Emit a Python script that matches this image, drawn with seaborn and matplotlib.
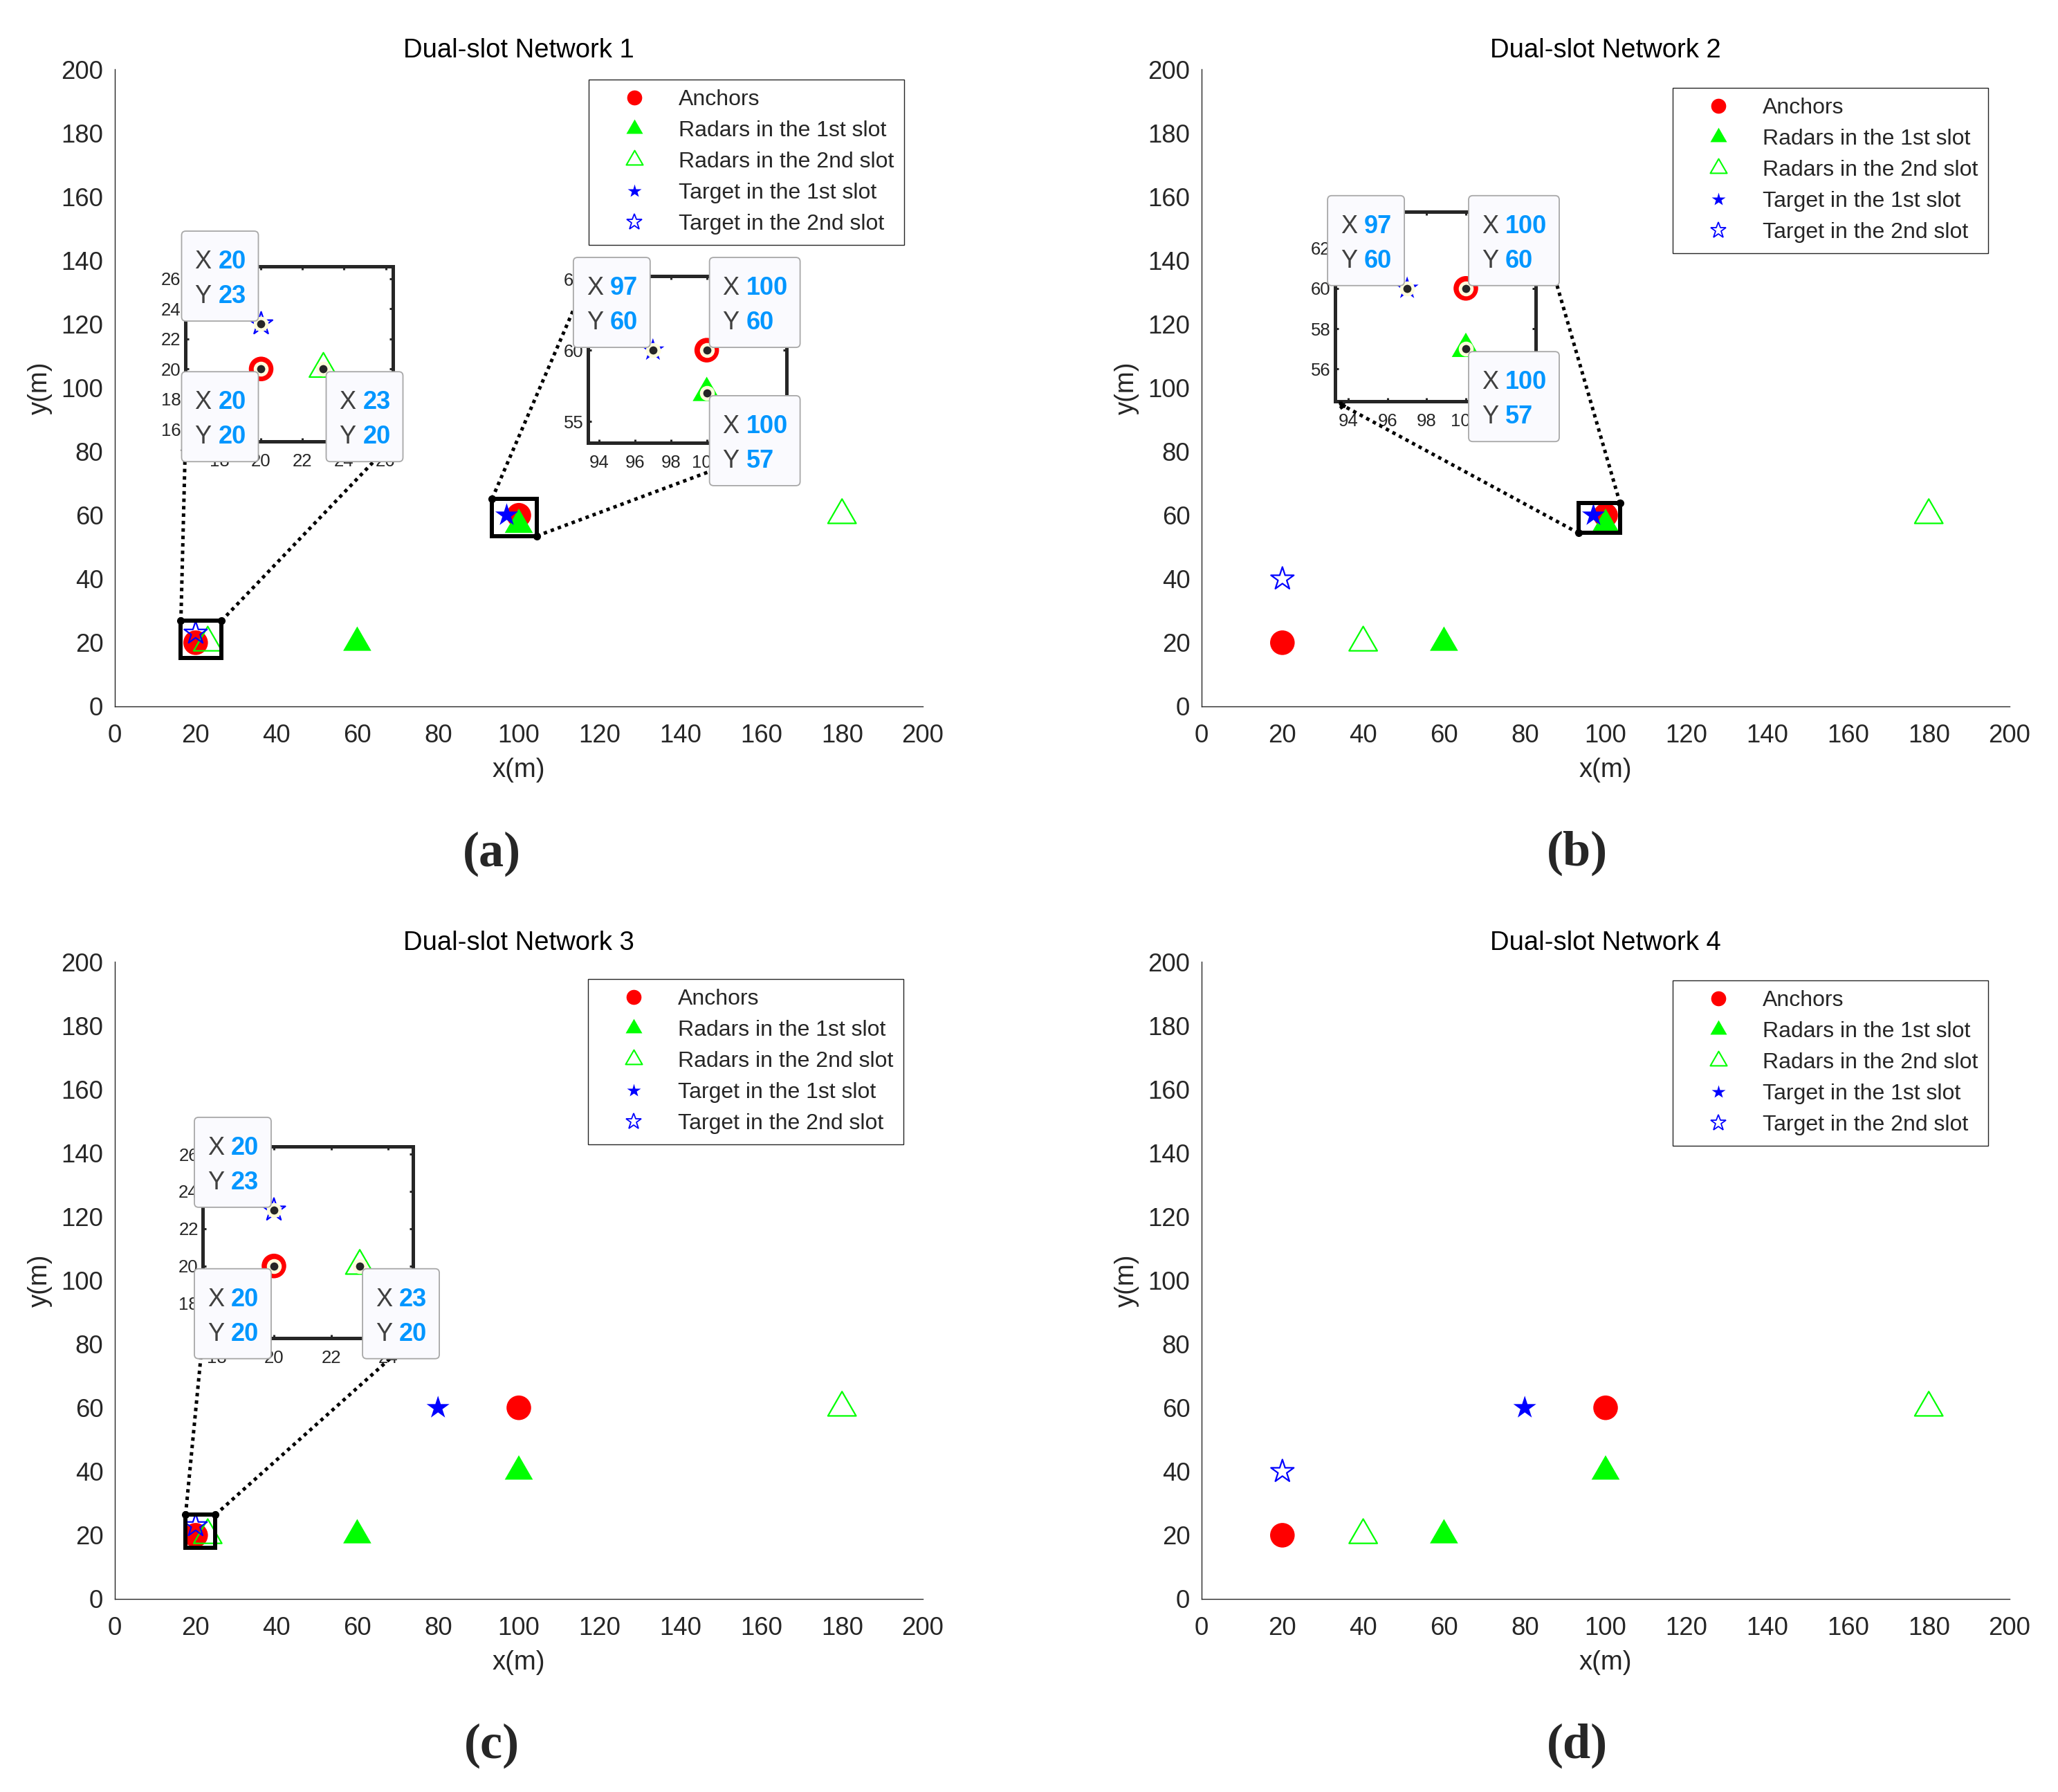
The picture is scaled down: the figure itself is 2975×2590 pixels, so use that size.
import matplotlib
matplotlib.use("Agg")
import matplotlib.pyplot as plt
import matplotlib.transforms as mtransforms
from matplotlib.patches import Rectangle, FancyBboxPatch, ConnectionPatch
from matplotlib.lines import Line2D
from matplotlib.path import Path
import seaborn as sns

# ---------------- data ----------------
network_titles = ["Dual-slot Network 1", "Dual-slot Network 2",
                  "Dual-slot Network 3", "Dual-slot Network 4"]
panel_labels = ["(a)", "(b)", "(c)", "(d)"]
legend_labels = ["Anchors", "Radars in the 1st slot", "Radars in the 2nd slot",
                 "Target in the 1st slot", "Target in the 2nd slot"]

anchor_x = [[20, 100], [20, 100], [20, 100], [20, 100]]
anchor_y = [[20, 60], [20, 60], [20, 60], [20, 60]]
radar1_x = [[60, 100], [60, 100], [60, 100], [60, 100]]
radar1_y = [[20, 57], [20, 57], [20, 40], [20, 40]]
radar2_x = [[23, 180], [40, 180], [23, 180], [40, 180]]
radar2_y = [[20, 60], [20, 60], [20, 60], [20, 60]]
target1_x = [[97], [97], [80], [80]]
target1_y = [[60], [60], [60], [60]]
target2_x = [[20], [20], [20], [20]]
target2_y = [[23], [40], [23], [40]]

main_ticks = list(range(0, 201, 20))

# data tips shown in each zoomed inset: (x, y)
tip_x = [[20, 20, 23], [97, 100, 100], [97, 100, 100], [20, 20, 23]]
tip_y = [[23, 20, 20], [60, 60, 57], [60, 60, 57], [23, 20, 20]]

# ---------------- layout / style ----------------
W, H = 2975, 2590
fig_px = dict(figsize=(W / 100, H / 100), dpi=100)

main_px = [(166, 100, 1334, 1021), (1737, 100, 2905, 1021),
           (166, 1390, 1334, 2311), (1737, 1390, 2905, 2311)]
legend_anchor_px = [(1307, 115), (2874, 127), (1306, 1415), (2874, 1417)]
label_px = [(711, 1234), (2280, 1233), (711, 2523), (2280, 2523)]

insets = [
    dict(panel=0, xlim=(16.35, 26.35), ylim=(15.18, 26.82), px=(268, 385, 568, 638),
         xticks=[18, 20, 22, 24, 26], yticks=[16, 18, 20, 22, 24, 26],
         links=[((0, 1), (0, 0)), ((1, 1), (1, 0))], tips=0, dirs=["ul", "ll", "lr"]),
    dict(panel=0, xlim=(93.38, 104.45), ylim=(53.5, 65.2), px=(850, 399, 1137, 640),
         xticks=[94, 96, 98, 100, 102, 104], yticks=[55, 60, 65],
         links=[((0, 1), (0, 1)), ((1, 0), (1, 0))], tips=1, dirs=["ul", "ur", "lr"]),
    dict(panel=1, xlim=(93.32, 103.57), ylim=(54.4, 63.8), px=(1930, 306, 2220, 580),
         xticks=[94, 96, 98, 100, 102], yticks=[56, 58, 60, 62],
         links=[((0, 0), (0, 0)), ((1, 1), (1, 1))], tips=2, dirs=["ul", "ur", "lr"]),
    dict(panel=2, xlim=(17.51, 24.86), ylim=(16.13, 26.41), px=(293, 1657, 597, 1934),
         xticks=[18, 20, 22, 24], yticks=[18, 20, 22, 24, 26],
         links=[((0, 1), (0, 0)), ((1, 1), (1, 0))], tips=3, dirs=["ul", "ll", "lr"]),
]

RED, GREEN, BLUE = "#FF0000", "#00FF00", "#0000FF"
AXC = "#262626"
TRI = Path([(0, 0.5774), (-0.5, -0.2887), (0.5, -0.2887), (0, 0.5774)],
           [Path.MOVETO, Path.LINETO, Path.LINETO, Path.CLOSEPOLY])
S_CIRC, S_TRI, S_STAR = 25.6 ** 2, 33.8 ** 2, 25.0 ** 2
TICK_FS, LABEL_FS = 26.3, 27.5

sns.set_theme(style="white")
plt.rcParams["font.family"] = ["Liberation Sans", "DejaVu Sans"]
plt.rcParams["axes.unicode_minus"] = False


def frac(px):
    x0, y0, x1, y1 = px
    return [x0 / W, 1 - y1 / H, (x1 - x0) / W, (y1 - y0) / H]


def draw_points(ax, i):
    sns.scatterplot(x=anchor_x[i], y=anchor_y[i], ax=ax, marker="o", s=S_CIRC,
                    color=RED, edgecolor="none", linewidth=0, legend=False, zorder=2)
    sns.scatterplot(x=radar1_x[i], y=radar1_y[i], ax=ax, marker=TRI, s=S_TRI,
                    color=GREEN, edgecolor="none", linewidth=0, legend=False, zorder=2)
    sns.scatterplot(x=radar2_x[i], y=radar2_y[i], ax=ax, marker=TRI, s=S_TRI,
                    facecolor="none", edgecolor=GREEN, linewidth=1.6, legend=False, zorder=2)
    sns.scatterplot(x=target1_x[i], y=target1_y[i], ax=ax, marker="*", s=S_STAR,
                    color=BLUE, edgecolor="none", linewidth=0, legend=False, zorder=2)
    sns.scatterplot(x=target2_x[i], y=target2_y[i], ax=ax, marker="*", s=S_STAR,
                    facecolor="none", edgecolor=BLUE, linewidth=1.6, legend=False, zorder=2)


def datatip(ax, x, y, d):
    T = mtransforms.ScaledTranslation(x, y, ax.transData)
    xs, ys = f"{x:g}", f"{y:g}"
    w = 111 if max(len(xs), len(ys)) <= 2 else 131
    h, g = 130, 4
    u0 = g if d[1] == "r" else -g - w
    v0 = g if d[0] == "u" else -g - h
    box = FancyBboxPatch((u0, v0), w, h, boxstyle="round,pad=0,rounding_size=6",
                         transform=T, fc="#FAFAFE", ec="#A8A8A8", lw=1.3,
                         zorder=20, clip_on=False)
    ax.add_patch(box)
    for k, (lab, val) in enumerate([("X", xs), ("Y", ys)]):
        vb = v0 + h - 54 - 50 * k
        ax.text(u0 + 19, vb, lab, transform=T, fontsize=26, color="#404040",
                va="baseline", ha="left", zorder=21, clip_on=False)
        ax.text(u0 + 53, vb, val, transform=T, fontsize=26, color="#0096FF",
                fontweight="bold", va="baseline", ha="left", zorder=21, clip_on=False)
    ax.plot([x], [y], "o", ms=12, mfc=AXC, mec="#FFFCDC", mew=3.5, zorder=19, clip_on=False)


fig = plt.figure(**fig_px)
axes = []
for i in range(4):
    ax = fig.add_axes(frac(main_px[i]))
    draw_points(ax, i)
    ax.set_xlim(0, 200)
    ax.set_ylim(0, 200)
    ax.set_xticks(main_ticks)
    ax.set_yticks(main_ticks)
    for s in ["top", "right"]:
        ax.spines[s].set_visible(False)
    for s in ["left", "bottom"]:
        ax.spines[s].set_linewidth(1.0)
        ax.spines[s].set_color(AXC)
    ax.tick_params(direction="in", length=8.6, width=1.0, colors=AXC, labelsize=TICK_FS)
    ax.tick_params(axis="x", pad=18)
    ax.tick_params(axis="y", pad=12)
    ax.set_xlabel("x(m)", fontsize=LABEL_FS, color=AXC, labelpad=10)
    ax.set_ylabel("y(m)", fontsize=LABEL_FS, color=AXC, labelpad=9)
    ax.set_title(network_titles[i], fontsize=LABEL_FS, color="black", pad=12)
    ax.grid(False)

    handles = [
        Line2D([], [], ls="none", marker="o", ms=15.6, mfc=RED, mec="none"),
        Line2D([], [], ls="none", marker=TRI, ms=20, mfc=GREEN, mec="none"),
        Line2D([], [], ls="none", marker=TRI, ms=20, mfc="none", mec=GREEN, mew=1.5),
        Line2D([], [], ls="none", marker="*", ms=15, mfc=BLUE, mec="none"),
        Line2D([], [], ls="none", marker="*", ms=17, mfc="none", mec=BLUE, mew=1.3),
    ]
    lx, ly = legend_anchor_px[i]
    leg = ax.legend(handles, legend_labels, loc="upper right",
                    bbox_to_anchor=(lx / W, 1 - ly / H), bbox_transform=fig.transFigure,
                    fontsize=23, frameon=True, fancybox=False, framealpha=1,
                    edgecolor=AXC, borderpad=0.45, handlelength=3.27,
                    handletextpad=0.37, labelspacing=0.47, borderaxespad=0,
                    numpoints=1)
    leg.get_frame().set_linewidth(1.0)
    axes.append(ax)

    lxp, lyp = label_px[i]
    fig.text(lxp / W, 1 - lyp / H, panel_labels[i], ha="center", va="center",
             fontsize=52, fontweight="bold", family=["Liberation Serif", "DejaVu Serif"])

for ins in insets:
    p = ins["panel"]
    ax = axes[p]
    axin = fig.add_axes(frac(ins["px"]))
    draw_points(axin, p)
    x0, x1 = ins["xlim"]
    y0, y1 = ins["ylim"]
    for t, (tx, ty) in enumerate(zip(tip_x[ins["tips"]], tip_y[ins["tips"]])):
        datatip(axin, tx, ty, ins["dirs"][t])
    axin.set_xlim(x0, x1)
    axin.set_ylim(y0, y1)
    axin.set_xticks(ins["xticks"])
    axin.set_yticks(ins["yticks"])
    axin.set_facecolor("white")
    for s in axin.spines.values():
        s.set_visible(True)
        s.set_linewidth(3.6)
        s.set_color(AXC)
    axin.tick_params(direction="in", length=3.5, width=2.2, colors=AXC, labelsize=18.5,
                     top=True, right=True, bottom=True, left=True)
    axin.tick_params(axis="x", pad=12.5)
    axin.tick_params(axis="y", pad=4.5)
    axin.grid(False)

    # zoom rectangle on the main axes
    ax.add_patch(Rectangle((x0, y0), x1 - x0, y1 - y0, fill=False, ec="black",
                           lw=4.3, zorder=4, clip_on=False))
    for fa, fb in ins["links"]:
        bx = x0 + fa[0] * (x1 - x0)
        by = y0 + fa[1] * (y1 - y0)
        ax.plot([bx], [by], "o", ms=7, color="black", zorder=6, clip_on=False)
        con = ConnectionPatch(xyA=(bx, by), coordsA="data", axesA=ax,
                              xyB=fb, coordsB="axes fraction", axesB=axin,
                              linestyle=(0, (1, 1.15)), linewidth=3.6, color="black",
                              capstyle="butt", arrowstyle="-|>", mutation_scale=16,
                              shrinkA=0, shrinkB=0, zorder=5)
        axin.add_artist(con)
        con.set_clip_on(False)

fig.savefig("out.png", dpi=100)
